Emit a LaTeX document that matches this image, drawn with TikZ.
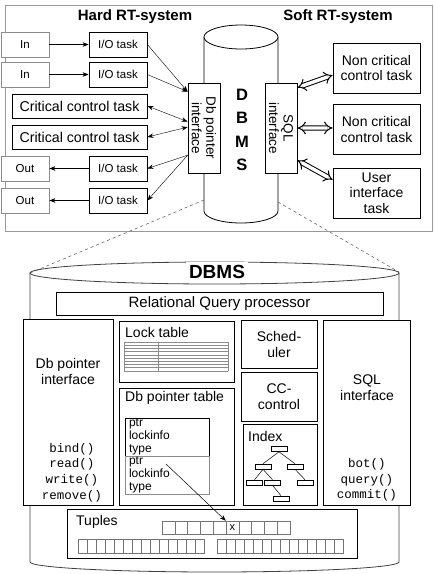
\documentclass[tikz,border=0pt]{standalone}
\usepackage{fontspec}
\setmainfont{Liberation Sans}
\setmonofont{Liberation Mono}
\usetikzlibrary{arrows.meta,calc}
\newcommand\fsz[2]{\fontsize{#1}{#2}\selectfont}
\tikzset{
	box/.style={draw, fill=white, line width=0.8pt, inner sep=1pt, align=center},
	portbox/.style={box, draw=black!45, minimum width=48pt, minimum height=25pt, font=\fsz{11.5}{13}},
	iobox/.style={box, minimum width=58pt, minimum height=25pt, font=\fsz{11.5}{13}},
	critbox/.style={box, minimum width=135pt, minimum height=24pt, font=\fsz{14.2}{16}},
	ncbox/.style={box, minimum width=87pt, minimum height=50pt, font=\fsz{14}{15.5}},
	ifbox/.style={box, minimum width=32pt, minimum height=90pt},
	iftext/.style={rotate=-90, align=center, inner sep=0pt, font=\fsz{13.5}{14.5}},
	title/.style={inner sep=0pt, font=\fsz{15}{18}\bfseries},
	lbl/.style={inner sep=0pt, font=\fsz{14}{16}, align=center},
	methods/.style={inner sep=0pt, align=center, font=\ttfamily\fsz{12.5}{15.7}},
	recbox/.style={box, minimum width=84pt, minimum height=38pt, text width=76pt, inner xsep=4pt, inner ysep=0.5pt, align=left, font=\fsz{12}{13.3}},
	leaf/.style={draw, fill=white, minimum width=16pt, minimum height=5pt, inner sep=0pt, line width=0.6pt},
	cell/.style={draw=black!55, minimum width=12.8pt, minimum height=13pt, inner sep=0pt, line width=0.5pt},
	smallcell/.style={draw=black!55, minimum width=9pt, minimum height=14pt, inner sep=0pt, line width=0.5pt},
	dbl/.style={double, double distance=3.4pt, line width=1pt, {Implies}-{Implies}},
	>={Stealth[length=6pt,width=4.5pt]}
}
\begin{document}
\begin{tikzpicture}[x=1pt, y=-1pt]
	\useasboundingbox (0,0) rectangle (434,574);
	\draw[draw=black!40, line width=0.8pt] (5,5) rectangle (432,231);
	\node[title] (hard) at (135,17) {Hard RT-system};
	\node[title] (soft) at (338,17) {Soft RT-system};
	\draw[line width=0.8pt, fill=white] (204,37) -- (204,211) arc[start angle=180, end angle=360, x radius=37pt, y radius=12pt] -- (278,37);
	\draw[line width=0.8pt, fill=white] (241,37) ellipse[x radius=37pt, y radius=12pt];
	\node[align=center, inner sep=0pt, font=\fsz{16.5}{23.3}\bfseries] (dbms) at (242,130) {D\\B\\M\\S};
	\node[ifbox] (dbp) at (204,128) {};
	\node[iftext] (dbp-t) at (dbp.center) {Db pointer\\interface};
	\node[ifbox] (sqlif) at (281,128) {};
	\node[iftext] (sqlif-t) at (sqlif.center) {SQL\\interface};
	\node[portbox] (in1) at (25,44.5) {In};
	\node[portbox] (in2) at (25,74.5) {In};
	\node[iobox] (io1) at (118,44.5) {I/O task};
	\node[iobox] (io2) at (118,74.5) {I/O task};
	\node[critbox] (crit1) at (79.5,106) {Critical control task};
	\node[critbox] (crit2) at (79.5,137) {Critical control task};
	\node[iobox] (io3) at (118,168.5) {I/O task};
	\node[iobox] (io4) at (118,200.5) {I/O task};
	\node[portbox] (out1) at (25,168.5) {Out};
	\node[portbox] (out2) at (25,200.5) {Out};
	\node[ncbox] (nc1) at (376.5,68) {Non critical\\control task};
	\node[ncbox] (nc2) at (376.5,129.5) {Non critical\\control task};
	\node[ncbox] (ui) at (376.5,193) {User\\interface\\task};
	\draw[->] (in1) -- (io1);
	\draw[->] (in2) -- (io2);
	\draw[->] (io1.east) -- ($(dbp.north west)!0.1!(dbp.south west)$);
	\draw[->] (io2.east) -- ($(dbp.north west)!0.1!(dbp.south west)$);
	\draw[<->] (crit1.east) -- ($(dbp.north west)!0.43!(dbp.south west)$);
	\draw[<->] (crit2.east) -- ($(dbp.north west)!0.49!(dbp.south west)$);
	\draw[->] ($(dbp.north west)!0.8!(dbp.south west)$) -- (io3.east);
	\draw[->] ($(dbp.north west)!0.8!(dbp.south west)$) -- (io4.east);
	\draw[->] (io3) -- (out1);
	\draw[->] (io4) -- (out2);
	\draw[dbl] ($(sqlif.north east)!0.055!(sqlif.south east)$) -- ($(nc1.north west)!0.64!(nc1.south west)$);
	\draw[dbl] ($(sqlif.north east)!0.5!(sqlif.south east)$) -- ($(nc2.north west)!0.47!(nc2.south west)$);
	\draw[dbl] ($(sqlif.north east)!0.855!(sqlif.south east)$) -- ($(ui.north west)!0.24!(ui.south west)$);
	\coordinate (up-bl) at (204,200);
	\coordinate (up-br) at (278,202);
	\coordinate (lo-tl) at (30,273);
	\coordinate (lo-tr) at (399,272);
	\draw[dashed, black!60, line width=0.6pt] (up-bl) -- (lo-tl);
	\draw[dashed, black!60, line width=0.6pt] (up-br) -- (lo-tr);
	\draw[black!75, line width=0.8pt, fill=white] (30,273) -- (30,562) arc[start angle=180, end angle=360, x radius=184.5pt, y radius=10pt] -- (399,273);
	\draw[black!75, line width=0.8pt] (214.5,273) ellipse[x radius=184.5pt, y radius=11pt];
	\node[fill=white, inner sep=3pt, font=\fsz{19}{22}\bfseries] (dbms2) at (217,272) {DBMS};
	\node[box, minimum width=327pt, minimum height=23pt, font=\fsz{15}{17}] (rqp) at (219.5,303.5) {Relational Query processor};
	\node[box, minimum width=90pt, minimum height=186pt] (dbpi) at (68,412) {};
	\node[lbl] (dbpi-t) at (68,371) {Db pointer\\interface};
	\node[methods] (dbpi-m) at (72,472.5) {bind()\\read()\\write()\\remove()};
	\node[box, minimum width=115pt, minimum height=61pt] (lock) at (176.5,351.5) {};
	\node[lbl, anchor=west] (lock-t) at (125,332) {Lock table};
	\foreach \y in {342,345.2,...,371.5}
		\draw[black!45, line width=0.4pt] (124,\y) -- (228,\y);
	\draw[black!45, line width=0.4pt] (124,342) -- (124,370.8) (158,342) -- (158,370.8) (228,342) -- (228,370.8);
	\node[box, minimum width=115pt, minimum height=117pt] (dbpt) at (176.5,446.5) {};
	\node[lbl, anchor=west] (dbpt-t) at (125,398) {Db pointer table};
	\node[recbox] (rec1) at (167,437) {ptr\\lockinfo\\type};
	\node[recbox, draw=black!45] (rec2) at (167,475) {ptr\\lockinfo\\type};
	\node[box, minimum width=76pt, minimum height=48pt, font=\fsz{14}{16}] (sched) at (279,344) {Sched-\\uler};
	\node[box, minimum width=76pt, minimum height=49pt, font=\fsz{14}{16}] (cc) at (279,396.5) {CC-\\control};
	\node[box, minimum width=74pt, minimum height=81pt] (index) at (280,464.5) {};
	\node[lbl, anchor=west] (index-t) at (248,436) {Index};
	\node[leaf] (t0) at (279,449) {};
	\node[leaf] (t1) at (263,466.5) {};
	\node[leaf] (t2) at (295,466.5) {};
	\node[leaf] (t3) at (254.5,482.5) {};
	\node[leaf] (t4) at (272.5,482.5) {};
	\node[leaf] (t5) at (305,482.5) {};
	\node[leaf] (t6) at (281,498.5) {};
	\draw[line width=0.5pt] (t0.south) -- (t1.north) (t0.south) -- (t2.north) (t1.south) -- (t3.north) (t1.south) -- (t4.north) (t2.south) -- (t5.north) (t4.south) -- (t6.north);
	\node[box, minimum width=87pt, minimum height=185pt] (sqli) at (366.5,412.5) {};
	\node[lbl] (sqli-t) at (367,388) {SQL\\interface};
	\node[methods] (sqli-m) at (367,480) {bot()\\query()\\commit()};
	\node[box, minimum width=290pt, minimum height=49pt] (tuples) at (212,533.5) {};
	\node[lbl, anchor=west] (tuples-t) at (76,522) {Tuples};
	\foreach \i in {0,...,9}
		\node[cell] (c\i) at ({168.4+12.8*\i},527.5) {};
	\node[inner sep=0pt, font=\fsz{11}{12}] (xmark) at (c5) {x};
	\foreach \i in {0,...,13}
		\node[smallcell] (a\i) at ({82.5+9*\i},546) {};
	\foreach \i in {0,...,13}
		\node[smallcell] (b\i) at ({221.5+9*\i},546) {};
	\coordinate (ptr2) at (166,464);
	\draw[->, line width=0.5pt] (ptr2) -- (c5.north west);
\end{tikzpicture}
\end{document}
